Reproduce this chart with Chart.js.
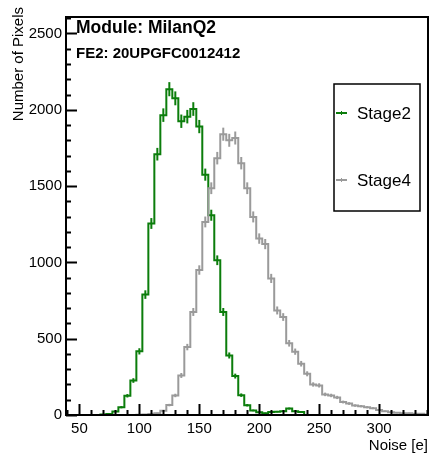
<!DOCTYPE html>
<html>
<head>
<meta charset="utf-8">
<script src="https://cdn.jsdelivr.net/npm/chart.js@4.4.1/dist/chart.umd.min.js"></script>
<style>
  html, body { margin: 0; padding: 0; background: #fff; }
  canvas { display: block; }
</style>
</head>
<body>
<canvas id="chart" width="432" height="455"></canvas>
<script>
// bin centres (5 e wide bins)
const binCenters = [40, 45, 50, 55, 60, 65, 70, 75, 80, 85, 90, 95, 100, 105, 110, 115, 120, 125, 130, 135,
  140, 145, 150, 155, 160, 165, 170, 175, 180, 185, 190, 195, 200, 205, 210, 215, 220, 225, 230, 235,
  240, 245, 250, 255, 260, 265, 270, 275, 280, 285, 290, 295, 300, 305, 310, 315, 320, 325, 330, 335, 340];

const stage2 = [0, 0, 0, 0, 0, 0, 4, 6, 23, 51, 126, 226, 417, 789, 1255, 1709, 1965, 2135, 2075, 1925,
  1955, 2005, 1890, 1575, 1309, 1014, 675, 390, 255, 130, 64, 30, 18, 12, 20, 22, 25, 42, 25, 20,
  0, 0, 0, 0, 0, 0, 0, 0, 0, 0, 0, 0, 0, 0, 0, 0, 0, 0, 0, 0, 0];

const stage4 = [0, 0, 0, 0, 0, 0, 0, 0, 0, 0, 0, 0, 2, 3, 6, 12, 28, 65, 128, 259,
  445, 675, 950, 1265, 1486, 1683, 1840, 1800, 1815, 1650, 1486, 1298, 1156, 1120, 895, 685, 642, 470, 415, 336,
  270, 200, 194, 135, 128, 115, 85, 75, 62, 58, 51, 45, 32, 25, 18, 15, 12, 12, 8, 8, 3];

const xTicks = [50, 100, 150, 200, 250, 300];
const yTicks = [0, 500, 1000, 1500, 2000, 2500];
const seriesNames = ['Stage2', 'Stage4'];
const titleLines = ['Module: MilanQ2', 'FE2: 20UPGFC0012412'];
const yTitle = 'Number of Pixels';

const GREEN = '#0b7d0b';
const GREY = '#9a9a9a';
const FONT = '"Liberation Sans", Arial, Helvetica, sans-serif';

const toPoints = (vals) => binCenters.map((x, i) => ({ x: x, y: vals[i] }));

// vertical sqrt(N) error ticks, drawn right after each histogram
const errorBars = {
  id: 'errorBars',
  afterDatasetDraw(chart, args) {
    const ds = chart.data.datasets[args.index];
    const { ctx, chartArea, scales } = chart;
    ctx.save();
    ctx.beginPath();
    ctx.rect(chartArea.left, chartArea.top, chartArea.right - chartArea.left, chartArea.bottom - chartArea.top);
    ctx.clip();
    ctx.strokeStyle = ds.borderColor;
    ctx.lineWidth = 2;
    ds.data.forEach((p) => {
      if (p.y <= 0) return;
      const e = Math.sqrt(p.y);
      const px = scales.x.getPixelForValue(p.x);
      ctx.beginPath();
      ctx.moveTo(px, scales.y.getPixelForValue(p.y - e));
      ctx.lineTo(px, scales.y.getPixelForValue(p.y + e));
      ctx.stroke();
    });
    ctx.restore();
  }
};

// ROOT style frame, inward ticks, legend box and labels
const rootFrame = {
  id: 'rootFrame',
  afterDraw(chart) {
    const { ctx, chartArea: a, scales } = chart;
    ctx.save();
    ctx.strokeStyle = '#000';
    ctx.lineWidth = 2;
    ctx.strokeRect(a.left, a.top, a.right - a.left, a.bottom - a.top);

    ctx.beginPath();
    for (let v = 40; v <= 340; v += 10) {
      const px = Math.round(scales.x.getPixelForValue(v)) + 0.5;
      const len = xTicks.includes(v) ? 11 : 5;
      ctx.moveTo(px, a.bottom);
      ctx.lineTo(px, a.bottom - len);
    }
    for (let v = 0; v <= 2600; v += 100) {
      const py = Math.round(scales.y.getPixelForValue(v)) + 0.5;
      const len = yTicks.includes(v) ? 11 : 5;
      ctx.moveTo(a.left, py);
      ctx.lineTo(a.left + len, py);
    }
    ctx.stroke();

    // y axis title, right aligned at the top like ROOT
    ctx.fillStyle = '#000';
    ctx.save();
    ctx.translate(19, 7);
    ctx.rotate(-Math.PI / 2);
    ctx.font = '15px ' + FONT;
    ctx.textAlign = 'right';
    ctx.textBaseline = 'middle';
    ctx.fillText(yTitle, 0, 0);
    ctx.restore();

    // title text
    ctx.textAlign = 'left';
    ctx.textBaseline = 'alphabetic';
    ctx.font = 'bold 17.5px ' + FONT;
    ctx.fillText(titleLines[0], 76, 33);
    ctx.font = 'bold 15px ' + FONT;
    ctx.fillText(titleLines[1], 76, 58);

    // legend
    ctx.lineWidth = 1.5;
    ctx.strokeRect(334, 84, 86, 127);
    const colors = [GREEN, GREY];
    const ys = [113, 180];
    ctx.font = '17px ' + FONT;
    ctx.textBaseline = 'middle';
    seriesNames.forEach((name, i) => {
      ctx.strokeStyle = colors[i];
      ctx.lineWidth = 2;
      ctx.beginPath();
      ctx.moveTo(336, ys[i]);
      ctx.lineTo(347, ys[i]);
      ctx.stroke();
      ctx.lineWidth = 1;
      ctx.beginPath();
      ctx.moveTo(341.5, ys[i] - 2);
      ctx.lineTo(341.5, ys[i] + 2);
      ctx.stroke();
      ctx.fillStyle = '#000';
      ctx.fillText(name, 357, ys[i] + 1);
    });
    ctx.restore();
  }
};

new Chart(document.getElementById('chart'), {
  type: 'line',
  data: {
    datasets: [
      {
        label: seriesNames[0],
        data: toPoints(stage2),
        borderColor: GREEN,
        borderWidth: 2,
        pointRadius: 0,
        stepped: 'middle',
        fill: false,
        order: 2
      },
      {
        label: seriesNames[1],
        data: toPoints(stage4),
        borderColor: GREY,
        borderWidth: 2,
        pointRadius: 0,
        stepped: 'middle',
        fill: false,
        order: 1
      }
    ]
  },
  options: {
    responsive: false,
    animation: false,
    layout: { padding: { top: 17, right: 4, left: 0, bottom: 0 } },
    plugins: { legend: { display: false }, tooltip: { enabled: false } },
    scales: {
      x: {
        type: 'linear',
        min: 38.8,
        max: 340.8,
        grid: { display: false, drawTicks: false, tickLength: 0 },
        border: { display: false },
        afterBuildTicks: (s) => { s.ticks = xTicks.map((v) => ({ value: v })); },
        afterFit: (s) => { s.height = 40; },
        ticks: { color: '#000', font: { family: FONT, size: 15 }, padding: 5, maxRotation: 0,
          callback: (v) => String(v) },
        title: { display: true, text: 'Noise [e]', align: 'end', color: '#000',
          font: { family: FONT, size: 15 }, padding: { top: 0, bottom: 0 } }
      },
      y: {
        min: 0,
        max: 2608,
        grid: { display: false, drawTicks: false, tickLength: 0 },
        border: { display: false },
        afterBuildTicks: (s) => { s.ticks = yTicks.map((v) => ({ value: v })); },
        afterFit: (s) => { s.width = 66; },
        ticks: { color: '#000', font: { family: FONT, size: 15 }, padding: 4,
          callback: (v) => String(v) }
      }
    }
  },
  plugins: [errorBars, rootFrame]
});
</script>
</body>
</html>
